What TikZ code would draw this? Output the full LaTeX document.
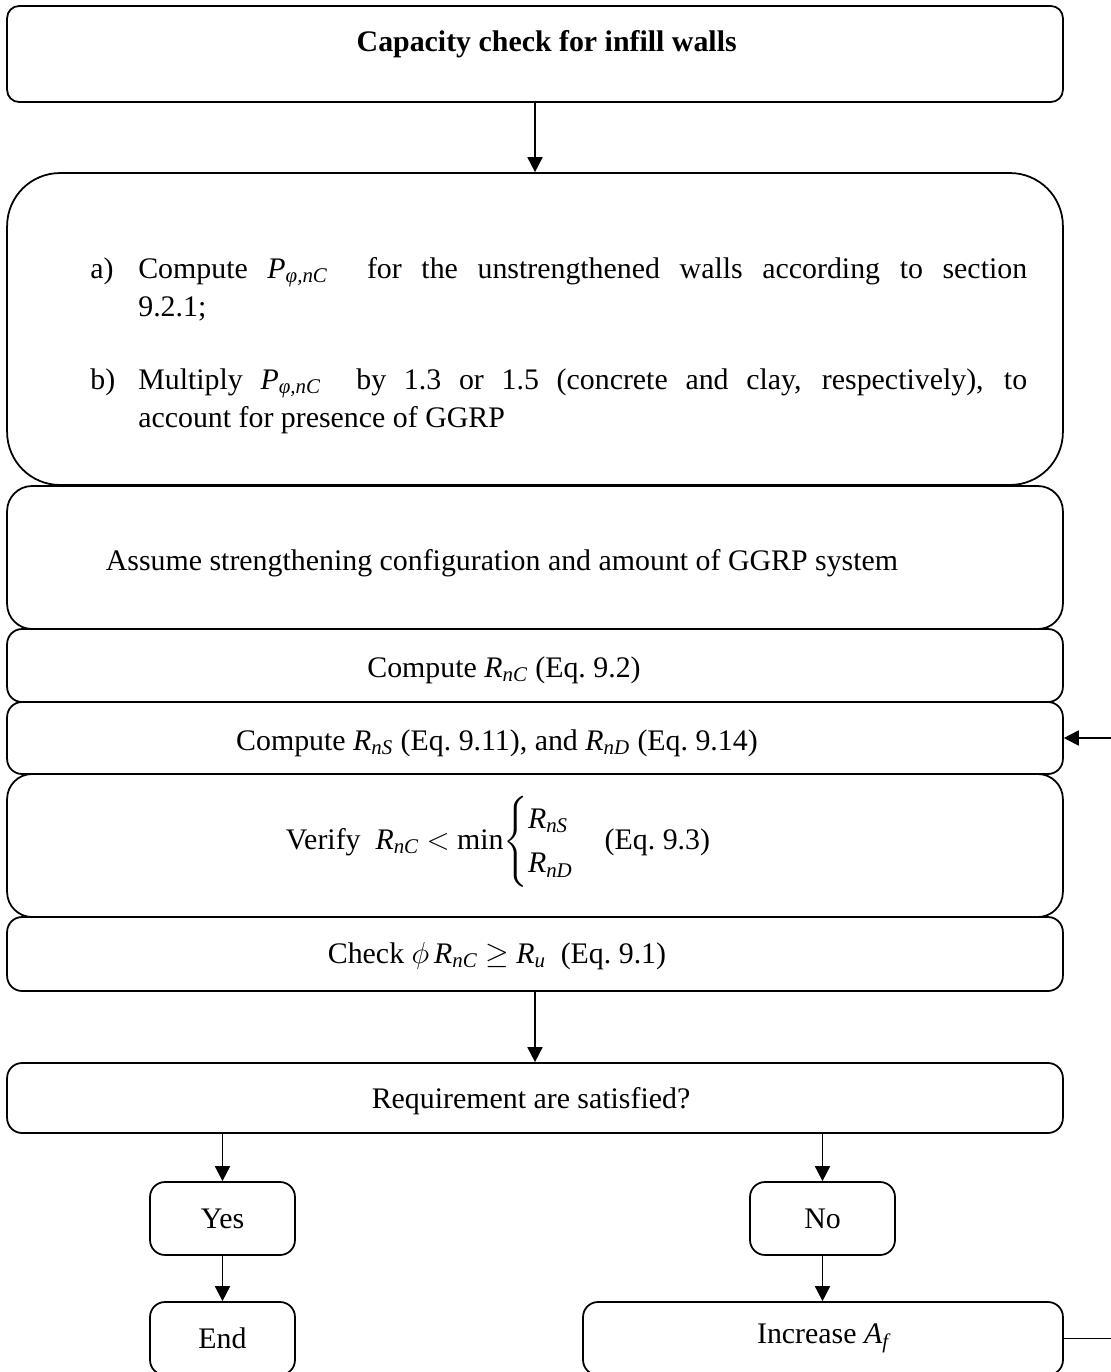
\documentclass[tikz,border=0pt]{standalone}
\usepackage{amsmath}
\usepackage{fontspec}
\setmainfont{Liberation Serif}
\usetikzlibrary{arrows.meta}
\newcommand{\Rn}[1]{$\textit{R}_{\textit{n#1}}$}
\newcommand{\Pc}{$\textit{P}_{\textit{φ,nC}}$}

\begin{document}
\begin{tikzpicture}[x=0.02cm,y=-0.02cm,
  box/.style={draw,line width=1pt,rounded corners=#1,inner sep=0pt,font=\fontsize{17}{22}\selectfont},
  box/.default=0.3cm,
  txt/.style={inner sep=0pt,anchor=base,font=\fontsize{17}{22}\selectfont},
  arr/.style={line width=1pt,-{Triangle[length=0.3cm,width=0.3cm]}}]
\useasboundingbox (0,0) rectangle (1110,1372);
% main column
\foreach \n/\y/\h/\rad in {b1/54/1.92cm/0.24cm,b2/329/6.24cm/1.06cm,b3/557.5/2.86cm/0.5cm,
    b4/665.5/1.46cm/0.3cm,b5/738/1.44cm/0.3cm,b6/845.5/2.86cm/0.5cm,b7/954/1.48cm/0.3cm,b8/1098/1.4cm/0.3cm}
  \node[box=\rad,minimum width=21.12cm,minimum height=\h] (\n) at (535,\y) {};
% branches
\foreach \n/\x/\y/\w/\t in {yes/222.5/1218.5/2.9cm/Yes,no/822.5/1218.5/2.9cm/No,
    end/222.5/1338.5/2.9cm/End,inc/823/1338.5/9.6cm/{Increase $\textit{A}_{\textit{f}}$}}
  \node[box,minimum width=\w,minimum height=1.46cm] (\n) at (\x,\y) {\t};

\node[txt,anchor=base east] (t1) at (737,52) {\textbf{Capacity check for infill walls}};
\node[txt,anchor=base west,text width=18.74cm,align=justify] (t2) at (90,278) {%
  \leftskip=0.96cm
  \noindent\hspace*{-0.96cm}\makebox[0.96cm][l]{a)}Compute \Pc\ \ for the unstrengthened walls according to section\linebreak 9.2.1;\par
  \vspace{0.68cm}
  \noindent\hspace*{-0.96cm}\makebox[0.96cm][l]{b)}Multiply \Pc\ \ by 1.3 or 1.5 (concrete and clay, respectively), to\linebreak account for presence of GGRP\par};
\node[txt] (t3) at (502,570) {Assume strengthening configuration and amount of GGRP system};
\node[txt] (t4) at (504,677) {Compute \Rn{C}\ (Eq.~9.2)};
\node[txt] (t5) at (497,750) {Compute \Rn{S}\ (Eq.~9.11), and \Rn{D}\ (Eq.~9.14)};
\node[txt] (t6) at (498,849) {Verify\ \ \Rn{C} $<$ min$\left\{\renewcommand{\arraystretch}{1.15}\begin{array}{@{}l@{}}\textit{R}_{\textit{nS}}\\ \textit{R}_{\textit{nD}}\end{array}\right.$\quad(Eq.~9.3)};
\node[txt] (t7) at (497,963) {Check $\phi$\,\Rn{C} $\geq$ $\textit{R}_{\textit{u}}$\ \ (Eq.~9.1)};
\node[txt] (t8) at (531,1108) {Requirement are satisfied?};

\draw[arr] (b1.south) -- (b2.north);
\draw[arr] (b7.south) -- (b8.north);
\draw[arr] (yes |- b8.south) -- (yes.north);
\draw[arr] (no |- b8.south) -- (no.north);
\draw[arr] (yes.south) -- (end.north);
\draw[arr] (no.south) -- (no.south |- inc.north);
\coordinate (back) at (1125,738);
\draw[arr] (inc.east) -| (back) -- (b5.east);
\end{tikzpicture}
\end{document}
